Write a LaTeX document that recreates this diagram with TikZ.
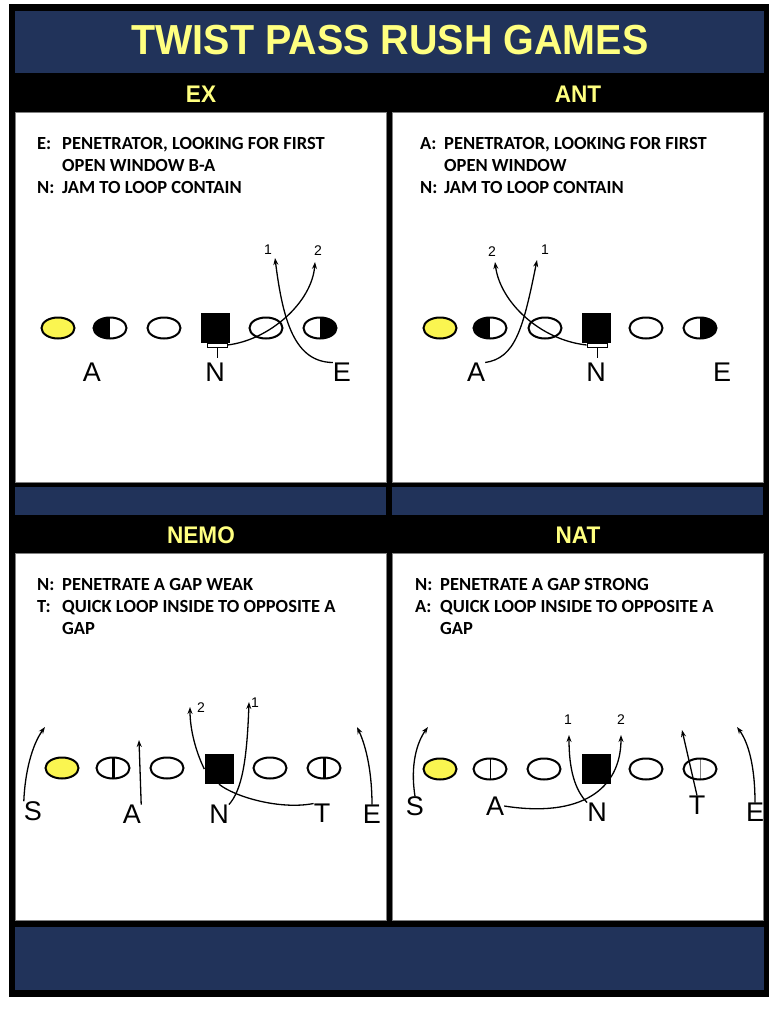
\documentclass[tikz,border=0pt]{standalone}
\usepackage{fontspec}
\setmainfont{Liberation Sans}
\newfontfamily\titlefont[FakeStretch=0.94]{Liberation Sans}
\newfontfamily\bodyfont{Carlito}
\usetikzlibrary{shapes.geometric,arrows.meta}
\definecolor{navy}{RGB}{33,51,90}
\definecolor{ttl}{RGB}{255,255,128}
\definecolor{ylw}{RGB}{250,245,80}
\tikzset{
  plyr/.style={ellipse, draw, line width=2pt, minimum width=33pt, minimum height=21pt, inner sep=0pt, fill=white},
  qb/.style={plyr, fill=ylw},
  hl/.style={plyr, path picture={\fill[black] (path picture bounding box.south west) rectangle (path picture bounding box.north);}},
  hr/.style={plyr, path picture={\fill[black] (path picture bounding box.south) rectangle (path picture bounding box.north east);}},
  barthick/.style={plyr, path picture={\draw[line width=3pt] (path picture bounding box.south) -- (path picture bounding box.north);}},
  barthin/.style={plyr, path picture={\draw[line width=1pt] (path picture bounding box.south) -- (path picture bounding box.north);}},
  bargray/.style={plyr, path picture={\draw[line width=1pt,gray] (path picture bounding box.south) -- (path picture bounding box.north);}},
  sq/.style={rectangle, fill=black, minimum width=29pt, minimum height=30pt, inner sep=0pt},
  jam/.style={rectangle, draw, line width=0.7pt, minimum width=20pt, minimum height=4pt, inner sep=0pt, fill=white},
  lbl/.style={font=\fontsize{27}{27}\selectfont, inner sep=0pt},
  num/.style={font=\fontsize{14}{14}\selectfont, inner sep=0pt},
  mv/.style={line width=1.3pt, -{Stealth[length=7pt,width=5pt]}},
  ln/.style={line width=1.3pt},
  body/.style={font=\bodyfont\bfseries\fontsize{18.5}{18.5}\selectfont, inner sep=0pt, anchor=base west},
  hdr/.style={font=\titlefont\bfseries\fontsize{24}{24}\selectfont, text=ttl, inner sep=0pt},
  panel/.style={fill=white, draw=gray, line width=0.6pt},
  band/.style={fill=navy, draw=none}
}
\begin{document}
\begin{tikzpicture}[x=1pt,y=-1pt]
\useasboundingbox (0,0) rectangle (776,1010);
\fill[white] (0,0) rectangle (776,1010);
% frame
\fill[black] (9,4) rectangle (769,997);
\fill[band] (15,11) rectangle (764,73);
\node[font=\titlefont\bfseries\fontsize{42}{42}\selectfont, text=ttl, inner sep=0pt] (title) at (390,40) {TWIST PASS RUSH GAMES};
\node[hdr] (hEX) at (201,94) {EX};
\node[hdr] (hANT) at (578,94) {ANT};
\draw[panel] (15,112) rectangle (386,482);
\draw[panel] (392,112) rectangle (763,482);
\fill[band] (15,487) rectangle (386,515);
\fill[band] (392,487) rectangle (763,515);
\node[hdr] (hNEMO) at (201,535) {NEMO};
\node[hdr] (hNAT) at (578,535) {NAT};
\draw[panel] (15,553) rectangle (386,920);
\draw[panel] (392,553) rectangle (763,920);
\fill[band] (15,927) rectangle (764,990);

% ---------- texts
\node[body] (t1a) at (37,149) {E:};
\node[body] (t1b) at (62,149) {PENETRATOR, LOOKING FOR FIRST};
\node[body] (t1c) at (62,171) {OPEN WINDOW B-A};
\node[body] (t1d) at (37,193) {N:};
\node[body] (t1e) at (62,193) {JAM TO LOOP CONTAIN};

\node[body] (t2a) at (420,149) {A:};
\node[body] (t2b) at (444,149) {PENETRATOR, LOOKING FOR FIRST};
\node[body] (t2c) at (444,171) {OPEN WINDOW};
\node[body] (t2d) at (420,193) {N:};
\node[body] (t2e) at (444,193) {JAM TO LOOP CONTAIN};

\node[body] (t3a) at (37,590) {N:};
\node[body] (t3b) at (62,590) {PENETRATE A GAP WEAK};
\node[body] (t3c) at (37,612) {T:};
\node[body] (t3d) at (62,612) {QUICK LOOP INSIDE TO OPPOSITE A};
\node[body] (t3e) at (62,634) {GAP};

\node[body] (t4a) at (415,590) {N:};
\node[body] (t4b) at (440,590) {PENETRATE A GAP STRONG};
\node[body] (t4c) at (415,612) {A:};
\node[body] (t4d) at (440,612) {QUICK LOOP INSIDE TO OPPOSITE A};
\node[body] (t4e) at (440,634) {GAP};

% ---------- EX
\node[qb] (ex1) at (58,328) {};
\node[hl] (ex2) at (110,328) {};
\node[plyr] (ex3) at (164,328) {};
\node[sq] (exN) at (215,328) {};
\node[plyr] (ex5) at (266,328) {};
\node[hr] (ex6) at (320,328) {};
\node[jam] (exJ) at (217,345) {};
\draw[line width=1pt] (exJ.south) -- ++(0,11) coordinate (exS);
\node[lbl] (exA) at (92,372) {A};
\node[lbl] (exNl) at (215,372) {N};
\node[lbl] (exE) at (342,372) {E};
\coordinate (ex1t) at (275,258);
\coordinate (ex2t) at (315,262);
\node[num] (ex1n) at (268,250) {1};
\node[num] (ex2n) at (318,251) {2};
\draw[mv] (exJ.east) .. controls (270,340) and (312,302) .. (ex2t);
\draw[mv] (exE.north west) .. controls (295,362) and (283,322) .. (ex1t);

% ---------- ANT
\node[qb] (an1) at (440,328) {};
\node[hl] (an2) at (490,328) {};
\node[plyr] (an3) at (545,328) {};
\node[sq] (anN) at (596,328) {};
\node[plyr] (an5) at (646,328) {};
\node[hr] (an6) at (700,328) {};
\node[jam] (anJ) at (597,345) {};
\draw[line width=1pt] (anJ.south) -- ++(0,11) coordinate (anS);
\node[lbl] (anA) at (476,372) {A};
\node[lbl] (anNl) at (596,372) {N};
\node[lbl] (anE) at (722,372) {E};
\coordinate (an2t) at (495,262);
\coordinate (an1t) at (537,260);
\node[num] (an2n) at (492,252) {2};
\node[num] (an1n) at (545,250) {1};
\draw[mv] (anJ.west) .. controls (540,340) and (500,302) .. (an2t);
\draw[mv] (anA.north east) .. controls (515,358) and (523,330) .. (an1t);

% ---------- NEMO
\node[qb] (ne1) at (62,768) {};
\node[barthick] (ne2) at (113,768) {};
\node[plyr] (ne3) at (167,768) {};
\node[sq] (neN) at (219,769) {};
\node[plyr] (ne5) at (270,768) {};
\node[barthick] (ne6) at (324,768) {};
\node[lbl] (neS) at (33,811) {S};
\node[lbl] (neA) at (132,814) {A};
\node[lbl] (neNl) at (219,814) {N};
\node[lbl] (neT) at (322,813) {T};
\node[lbl] (neE) at (372,814) {E};
\coordinate (neSt) at (45,727);
\coordinate (neAt) at (139,740);
\coordinate (ne2t) at (190,707);
\coordinate (ne1t) at (249,702);
\coordinate (neEt) at (357,727);
\node[num] (ne2n) at (201,708) {2};
\node[num] (ne1n) at (255,703) {1};
\draw[mv] (neS.north west) .. controls (25,772) and (32,745) .. (neSt);
\draw[mv] (neA.north east) -- (neAt);
\draw[mv] (neN.west) .. controls (196,752) and (190,730) .. (ne2t);
\draw[mv] (neNl.north east) .. controls (242,790) and (247,760) .. (ne1t);
\draw[ln] (neN.south) .. controls (235,797) and (280,810) .. (neT.north west);
\draw[mv] (neE.north) .. controls (372,775) and (367,748) .. (neEt);

% ---------- NAT
\node[qb] (na1) at (440,769) {};
\node[barthin] (na2) at (490,769) {};
\node[plyr] (na3) at (544,769) {};
\node[sq] (naN) at (596,769) {};
\node[plyr] (na5) at (646,769) {};
\node[bargray] (na6) at (700,769) {};
\node[lbl] (naS) at (415,806) {S};
\node[lbl] (naA) at (495,806) {A};
\node[lbl] (naNl) at (597,812) {N};
\node[lbl] (naT) at (697,805) {T};
\node[lbl] (naE) at (755,812) {E};
\coordinate (naSt) at (428,727);
\coordinate (na1t) at (569,735);
\coordinate (na2t) at (621,735);
\coordinate (naTt) at (682,730);
\coordinate (naEt) at (737,727);
\node[num] (na1n) at (568,720) {1};
\node[num] (na2n) at (621,720) {2};
\draw[mv] (naS.north) .. controls (410,765) and (417,742) .. (naSt);
\draw[mv] (naNl.north west) .. controls (575,790) and (569,770) .. (na1t);
\draw[mv] (naA.east) .. controls (580,818) and (621,790) .. (na2t);
\draw[mv] (naT.north) -- (naTt);
\draw[mv] (naE.north) .. controls (755,765) and (748,742) .. (naEt);
\end{tikzpicture}
\end{document}
